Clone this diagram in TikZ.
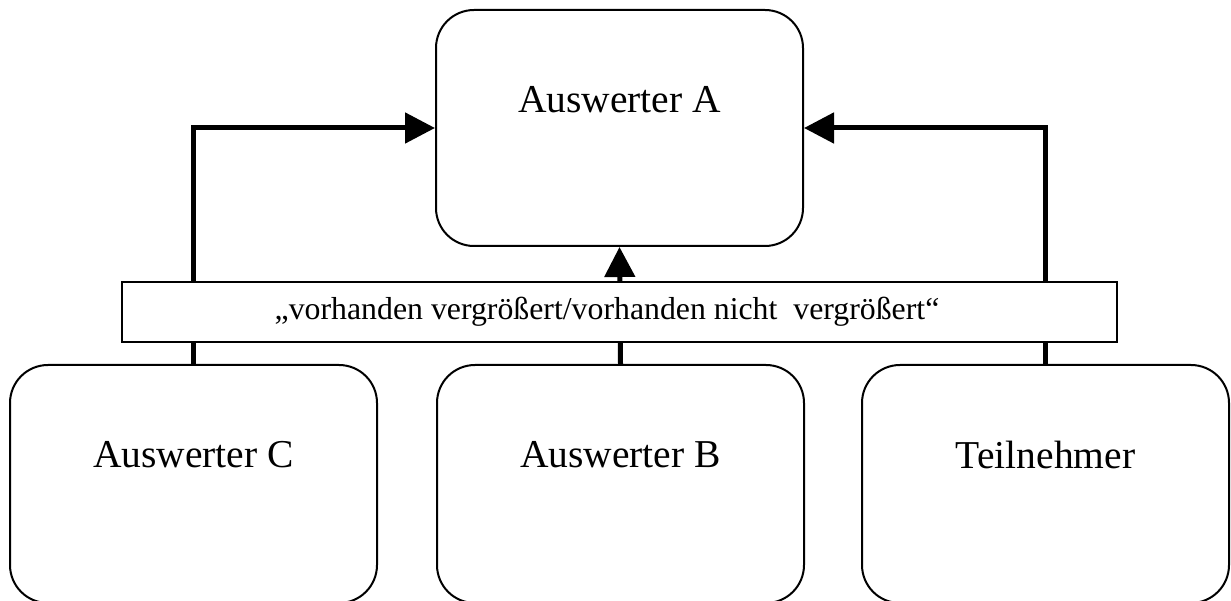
\documentclass[tikz,border=0pt]{standalone}
\usepackage{fontspec}
\setmainfont{Liberation Serif}
\usetikzlibrary{arrows.meta}
\begin{document}
\begin{tikzpicture}[x=1pt,y=-1pt,
  rbox/.style={draw,line width=2pt,rounded corners=38pt,minimum width=367pt,fill=white,inner sep=0pt},
  lbl/.style={font=\fontsize{39.5}{45}\selectfont,inner sep=0pt},
  conn/.style={line width=5pt,-{Triangle[length=30pt,width=30pt]}},
  banner/.style={draw,line width=1.5pt,fill=white,minimum width=995pt,minimum height=60pt,inner sep=0pt},
  btext/.style={font=\fontsize{31.8}{36}\selectfont,inner sep=0pt}]
\useasboundingbox (0,0) rectangle (1231,601);
% boxes
\node[rbox,minimum height=236pt] (A) at (619.5,128) {};
\node[rbox,minimum height=238pt] (C) at (193.5,484) {};
\node[rbox,minimum height=238pt] (B) at (620.5,484) {};
\node[rbox,minimum height=238pt] (T) at (1045.5,484) {};
\node[lbl] (tA) at (619.5,100) {Auswerter A};
\node[lbl] (tC) at (193.5,455) {Auswerter C};
\node[lbl] (tB) at (620.5,455) {Auswerter B};
\node[lbl] (tT) at (1045.5,455) {Teilnehmer};
% connectors
\draw[conn] (C.north) |- (A.west);
\draw[conn] (T.north) |- (A.east);
\draw[conn] (B.north) -- (A.south);
% banner
\node[banner] (N) at (619.5,312) {};
\node[btext] (tN) at (607,312) {„vorhanden vergrößert/vorhanden nicht~~vergrößert“};
\end{tikzpicture}
\end{document}
